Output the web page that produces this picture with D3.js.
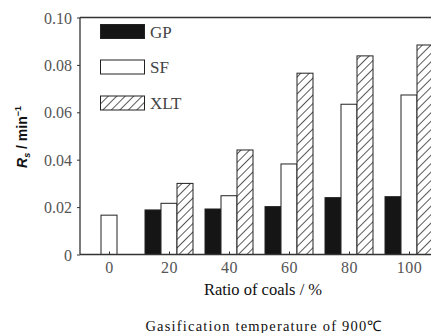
<!DOCTYPE html>
<html><head><meta charset="utf-8">
<script src="https://cdn.jsdelivr.net/npm/d3@7"></script>
<style>body{margin:0;background:#fff;}svg{display:block;}</style>
</head><body>
<script>
const categories = ["0","20","40","60","80","100"];
const seriesNames = ["GP","SF","XLT"];
const gpValues  = [null, 0.0188, 0.0192, 0.0202, 0.0240, 0.0244];
const sfValues  = [0.0166, 0.0216, 0.0248, 0.0382, 0.0634, 0.0673];
const xltValues = [null, 0.0300, 0.0441, 0.0765, 0.0838, 0.0884];
const yTicks = [0, 0.02, 0.04, 0.06, 0.08, 0.10];

const W = 431, H = 333;
const svg = d3.select("body").append("svg").attr("width", W).attr("height", H);
const defs = svg.append("defs");
const pat = defs.append("pattern").attr("id","hatch").attr("patternUnits","userSpaceOnUse")
  .attr("width",6).attr("height",6).attr("patternTransform","rotate(45)");
pat.append("rect").attr("width",6).attr("height",6).attr("fill","#fff");
pat.append("line").attr("x1",0).attr("y1",0).attr("x2",0).attr("y2",6).attr("stroke","#000").attr("stroke-width",1.3);

const plotLeft = 80, plotTop = 17.5, plotBottom = 254.5;
const x = d3.scalePoint().domain(categories).range([109, 409]);
const y = d3.scaleLinear().domain([0, 0.10]).range([plotBottom, plotTop]);
const bw = 16;
const offsets = {GP: -1.5*bw, SF: -0.5*bw, XLT: 0.5*bw};
const fills = {GP: "#151515", SF: "#fff", XLT: "url(#hatch)"};
const vals = {GP: gpValues, SF: sfValues, XLT: xltValues};

const g = svg.append("g");
seriesNames.forEach(s => {
  g.selectAll(null).data(categories.map((c,i)=>({c, v: vals[s][i]})).filter(d=>d.v!=null))
   .enter().append("rect")
   .attr("x", d => x(d.c) + offsets[s])
   .attr("y", d => y(d.v))
   .attr("width", bw)
   .attr("height", d => plotBottom - y(d.v))
   .attr("fill", fills[s]).attr("stroke","#222").attr("stroke-width",1);
});

// axes
const axisColor = "#333";
const yAxis = svg.append("g").attr("transform",`translate(${plotLeft},0)`)
  .call(d3.axisLeft(y).tickValues(yTicks).tickSize(3).tickFormat(d => d===0 ? "0" : d3.format(".2f")(d)));
yAxis.select(".domain").remove();
yAxis.selectAll(".tick line").attr("stroke",axisColor);
yAxis.selectAll(".tick text").attr("x",-8).attr("dy","0.35em")
  .style("font-family","'Liberation Serif', serif").style("font-size","16px").attr("fill","#555");

const xAxis = svg.append("g").attr("transform",`translate(0,${plotBottom})`)
  .call(d3.axisBottom(x).tickSize(-3).tickSizeOuter(0));
xAxis.select(".domain").remove();
xAxis.selectAll(".tick line").attr("stroke",axisColor);
xAxis.selectAll(".tick text").attr("y",18.5).attr("dy","0")
  .style("font-family","'Liberation Serif', serif").style("font-size","16px").style("letter-spacing","0.5px").attr("fill","#555");

svg.append("line").attr("x1",plotLeft).attr("x2",W).attr("y1",plotBottom).attr("y2",plotBottom).attr("stroke",axisColor).attr("stroke-width",1.3);
svg.append("line").attr("x1",plotLeft).attr("x2",W).attr("y1",plotTop).attr("y2",plotTop).attr("stroke",axisColor).attr("stroke-width",1.3);
svg.append("line").attr("x1",plotLeft).attr("x2",plotLeft).attr("y1",plotTop).attr("y2",plotBottom).attr("stroke",axisColor).attr("stroke-width",1.3);

// legend
const legY = [24.5, 60, 96];
seriesNames.forEach((s,i) => {
  svg.append("rect").attr("x",100.5).attr("y",legY[i]).attr("width",44).attr("height",14)
    .attr("fill",fills[s]).attr("stroke","#222").attr("stroke-width",1);
  svg.append("text").attr("x",150).attr("y",legY[i]+13).text(s)
    .style("font-family","'Liberation Serif', serif").style("font-size","17px").attr("fill","#444");
});

// y label
const yl = svg.append("text").attr("transform","translate(27,137) rotate(-90)").attr("text-anchor","middle")
  .style("font-family","'Liberation Sans', Arial, sans-serif").style("font-size","14px").style("font-weight","bold").attr("fill","#111");
yl.append("tspan").text("R").style("font-style","italic");
yl.append("tspan").text("s").attr("font-size","9px").attr("dy","3").style("font-style","italic");
yl.append("tspan").text(" / min").attr("dy","-3");
yl.append("tspan").text("−1").attr("font-size","9px").attr("dy","-6");

svg.append("text").attr("x",263).attr("y",295).attr("text-anchor","middle").text("Ratio of coals / %")
  .style("font-family","'Liberation Serif', serif").style("font-size","16.5px").attr("fill","#111");
svg.append("text").attr("x",264).attr("y",331).attr("text-anchor","middle").text("Gasification temperature of 900℃")
  .style("font-family","'Liberation Serif', serif").style("font-size","14.5px").style("letter-spacing","1.2px").attr("fill","#111");
</script>
</body></html>
